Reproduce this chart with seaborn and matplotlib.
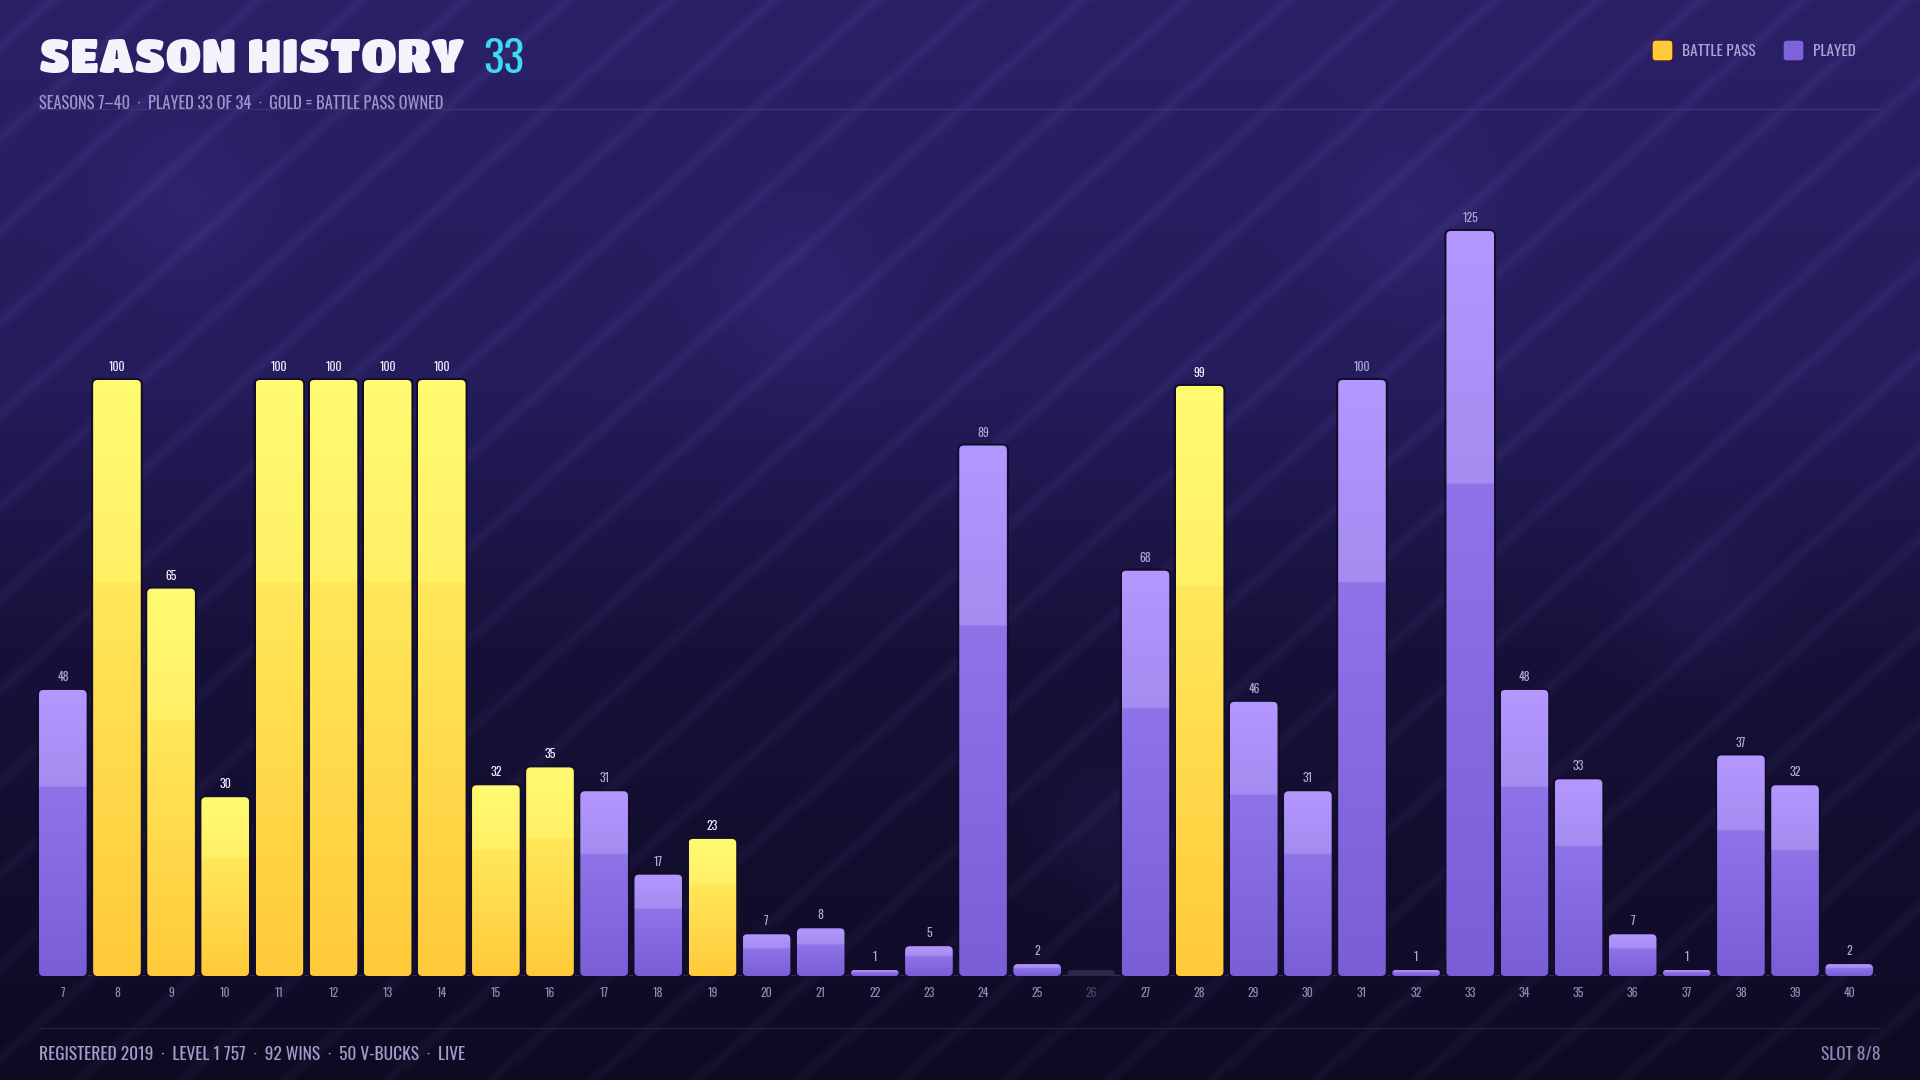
import numpy as np
import pandas as pd
import matplotlib
matplotlib.use('Agg')
import matplotlib.pyplot as plt
import seaborn as sns
from matplotlib.patches import FancyBboxPatch
from matplotlib import font_manager

# --- data ------------------------------------------------------------------
seasons = list(range(7, 41))
level = [48, 100, 65, 30, 100, 100, 100, 100, 32, 35, 31, 17, 23, 7, 8, 1, 5, 89, 2, 0,
         68, 99, 46, 31, 100, 1, 125, 48, 33, 7, 1, 37, 32, 2]
battle_pass = [8, 9, 10, 11, 12, 13, 14, 15, 16, 19, 28]
not_played = [26]

title = 'SEASON HISTORY'
title_num = '33'
subtitle = 'SEASONS 7\u201340  \u00b7  PLAYED 33 OF 34  \u00b7  GOLD = BATTLE PASS OWNED'
footer_left = 'REGISTERED 2019  \u00b7  LEVEL 1 757  \u00b7  92 WINS  \u00b7  50 V-BUCKS  \u00b7  LIVE'
footer_right = 'SLOT 8/8'
legend_labels = ['BATTLE PASS', 'PLAYED']

df = pd.DataFrame({'season': [str(s) for s in seasons], 'level': level})

# --- fonts --------------------------------------------------------------------
names = {f.name for f in font_manager.fontManager.ttflist}


def pick(cands):
    for c in cands:
        if c in names:
            return c
    return 'DejaVu Sans'


HEAVY = pick(['Titan One', 'Archivo Black', 'Luckiest Guy'])
COND = pick(['Oswald', 'Barlow Condensed', 'Archivo Narrow', 'Liberation Sans Narrow'])

W, H = 1920, 1080
fig = plt.figure(figsize=(19.2, 10.8), dpi=100)
renderer = fig.canvas.get_renderer()


def fx(px):
    return px / W


def fy(py):
    return 1 - py / H


def fit_width(txt, target_px):
    # scale the font so the text spans the same width as in the reference
    bb = txt.get_window_extent(renderer)
    txt.set_fontsize(txt.get_fontsize() * target_px / bb.width)


# --- background: dark purple gradient, diagonal stripes, soft blobs ----------
yy, xx = np.mgrid[0:H, 0:W].astype(float)
t = yy / (H - 1)
stops_t = [0.0, 0.35, 0.6, 1.0]
stops_c = np.array([[42, 32, 102], [37, 28, 92], [23, 17, 58], [14, 10, 34]], float)
img = np.stack([np.interp(t, stops_t, stops_c[:, k]) for k in range(3)], axis=-1)
period = 103
s = (xx + 1.12 * yy) % period
band = np.clip(1 - np.abs(s - period / 2) / 15, 0, 1)
band = band * band * (3 - 2 * band)
img += band[..., None] * np.array([9, 8, 12.0]) * (1 - 0.25 * t)[..., None]
for cx, cy, r in [(184, 202, 55), (796, 294, 60), (1408, 220, 55), (1702, 600, 50), (1108, 833, 45)]:
    g = np.exp(-((xx - cx) ** 2 + (yy - cy) ** 2) / (2 * r ** 2))
    img += g[..., None] * np.array([7, 6, 14.0])
img = np.clip(img, 0, 255).astype(np.uint8)

ax_bg = fig.add_axes([0, 0, 1, 1], zorder=0)
ax_bg.imshow(img, aspect='auto', interpolation='bilinear')
ax_bg.axis('off')

# --- main axes ----------------------------------------------------------------
ax_left, ax_right, base_y, top_y = 35.75, 1876.25, 976, 141.6
ax = fig.add_axes([fx(ax_left), fy(base_y), (ax_right - ax_left) / W, (base_y - top_y) / H], zorder=1)
ax.set_facecolor('none')

sns.barplot(data=df, x='season', y='level', color='#8a6ee6', width=0.88,
            saturation=1, errorbar=None, ax=ax)

YMAX = 140
sx = (ax_right - ax_left) / len(seasons)
sy = (base_y - top_y) / YMAX
aspect = sx / sy
STUB = 1.0


def gradient(stops, n=300, split=0.34):
    # stops: top, split-upper, split-lower, bottom colours (hex)
    c = [np.array(matplotlib.colors.to_rgb(k)) for k in stops]
    out = np.zeros((n, 1, 3))
    for i, v in enumerate(np.linspace(0, 1, n)):
        if v < split:
            f = v / split
            out[i, 0] = c[0] * (1 - f) + c[1] * f
        else:
            f = (v - split) / (1 - split)
            out[i, 0] = c[2] * (1 - f) + c[3] * f
    return out


gold_grad = gradient(['#fffb72', '#fff066', '#ffe85a', '#ffca3a'])
purple_grad = gradient(['#b497ff', '#a48cf0', '#8e73e9', '#7a5ed6'])

for season, val, p in zip(seasons, level, ax.patches):
    x0, w = p.get_x(), p.get_width()
    p.set_visible(False)
    h = STUB if season in not_played else val
    r = min(4.5 / sx, h / aspect / 2)
    box = dict(boxstyle=f'round,pad=0,rounding_size={r}', mutation_aspect=aspect)
    if season in not_played:
        ax.add_patch(FancyBboxPatch((x0, 0), w, h, facecolor='#2c2747', edgecolor='none',
                                    zorder=3, **box))
        continue
    ax.add_patch(FancyBboxPatch((x0, 0), w, h, facecolor='none', edgecolor='#120d2a',
                                lw=3, zorder=2.5, **box))
    clip = FancyBboxPatch((x0, 0), w, h, facecolor='none', edgecolor='none',
                          transform=ax.transData, **box)
    ax.add_patch(clip)
    gold = season in battle_pass
    im = ax.imshow(gold_grad if gold else purple_grad, extent=(x0, x0 + w, 0, h),
                   aspect='auto', origin='upper', interpolation='bilinear', zorder=3)
    im.set_clip_path(clip)
    ax.annotate(str(val), (x0 + w / 2, h), xytext=(0, 5), textcoords='offset points',
                ha='center', va='bottom', fontsize=8.5, family=COND,
                color='#f4f2ff' if gold else '#b1aad9',
                fontweight='medium' if gold else 'light', zorder=4)

ax.set_xlim(-0.5, len(seasons) - 0.5)
ax.set_ylim(0, YMAX)
ax.axhline(0, color='#38316a', lw=1.2, zorder=2)
ax.set_xlabel('')
ax.set_ylabel('')
ax.set_yticks([])
ax.tick_params(axis='x', length=0, pad=8, labelsize=8.5, labelcolor='#8f89b8')
for lab, season in zip(ax.get_xticklabels(), seasons):
    lab.set_fontfamily(COND)
    lab.set_fontweight('light')
    if season in not_played:
        lab.set_color('#4b4570')
for sp in ax.spines.values():
    sp.set_visible(False)

# --- header -------------------------------------------------------------------
t_title = fig.text(fx(39), fy(73), title, fontsize=30, family=HEAVY,
                   fontweight='heavy' if HEAVY == 'DejaVu Sans' else 'normal',
                   color='#f4f2fb', va='baseline', ha='left')
fit_width(t_title, 424)
fig.text(fx(483), fy(73), title_num, fontsize=31, family=COND, fontweight='light',
         color='#3fd8f2', va='baseline', ha='left')
t_sub = fig.text(fx(39), fy(109), subtitle, fontsize=11, family=COND, fontweight='light',
                 color='#9d96c8', va='baseline', ha='left')
fit_width(t_sub, 409)
fig.add_artist(plt.Line2D([fx(39), fx(1880)], [fy(108.5), fy(108.5)], color='#3a3278',
                          lw=1, transform=fig.transFigure))

# legend
leg_colors = ['#ffcb3a', '#7d62d9']
leg_edges = ['#4a1e2a', '#2a1f66']
leg_x = [1652, 1783]
for lx, lab, fc, ec in zip(leg_x, legend_labels, leg_colors, leg_edges):
    fig.add_artist(FancyBboxPatch((fx(lx), fy(61)), 21 / W, 21 / H,
                                  boxstyle=f'round,pad=0,rounding_size={4 / W}',
                                  mutation_aspect=W / H, facecolor=fc, edgecolor=ec,
                                  lw=1, transform=fig.transFigure))
    fig.text(fx(lx + 30), fy(52), lab, fontsize=11, family=COND, fontweight='light',
             color='#aaa3d6', va='center', ha='left')

# --- footer -------------------------------------------------------------------
fig.add_artist(plt.Line2D([fx(39), fx(1880)], [fy(1028), fy(1028)], color='#221d45',
                          lw=1, transform=fig.transFigure))
t_foot = fig.text(fx(39), fy(1055), footer_left, fontsize=11, family=COND, fontweight='light',
                  color='#a39cc9', va='center', ha='left')
fit_width(t_foot, 424)
fig.text(fx(1881), fy(1055), footer_right, fontsize=t_foot.get_fontsize(), family=COND,
         fontweight='light', color='#8d87b3', va='center', ha='right')

fig.savefig('out.png', dpi=100)
